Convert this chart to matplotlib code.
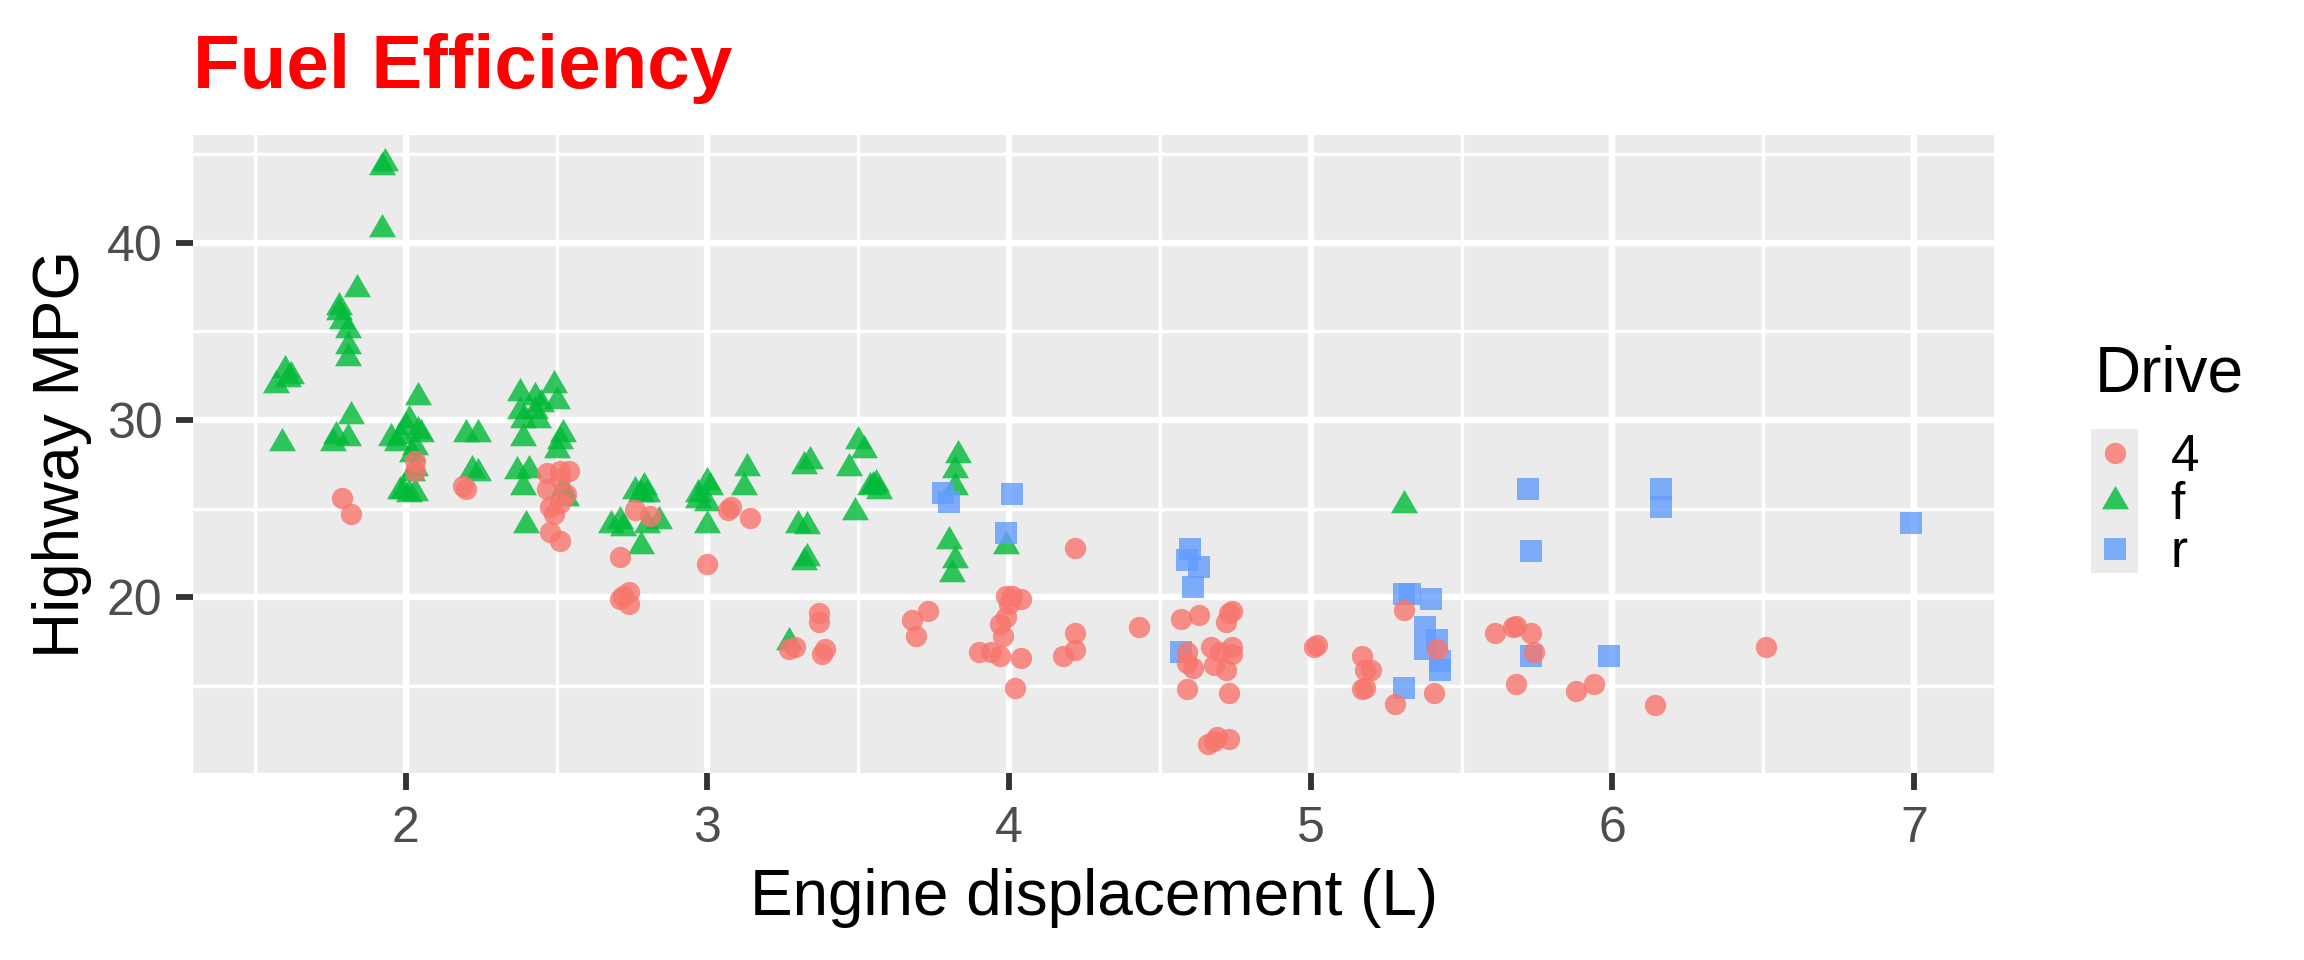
import matplotlib
matplotlib.use("Agg")
import matplotlib.pyplot as plt
from matplotlib.ticker import FixedLocator

plt.rcParams['font.family'] = ['Liberation Sans', 'DejaVu Sans']

# readings (displ, hwy) per drive type
f_displ = [1.93, 1.92, 1.92, 1.84, 1.78, 1.78, 1.79, 1.81, 1.81, 1.81,
           1.60, 1.62, 1.57, 1.61, 1.59, 1.82, 1.77, 1.76, 1.81,
           2.04, 2.01, 2.00, 1.98, 2.04, 1.97, 2.03, 2.02, 2.03, 2.02,
           1.99, 2.01, 2.03, 2.05, 1.95, 1.98,
           2.20, 2.24, 2.22, 2.24,
           2.38, 2.43, 2.49, 2.50, 2.38, 2.43, 2.45, 2.39, 2.44, 2.39,
           2.52, 2.51, 2.50, 2.37, 2.41, 2.39, 2.40, 2.52, 2.53,
           2.79, 2.80, 2.78, 3.01, 2.97, 3.13, 3.12, 3.32, 3.34, 3.50,
           3.52, 3.47, 3.54, 3.49, 3.30, 3.33, 2.97, 3.00, 2.68, 2.71,
           2.72, 2.84, 2.80, 3.00, 2.78, 3.33, 3.32, 3.27, 3.00, 2.76,
           3.56, 3.57, 3.55, 3.83, 3.82, 3.82, 3.80, 3.82, 3.81, 3.99,
           5.31]
f_hwy = [44.5, 44.3, 40.8, 37.4, 36.4, 36.1, 35.6, 35.1, 34.2, 33.5,
         32.8, 32.5, 32.0, 32.3, 28.7, 30.2, 29.1, 28.7, 29.0,
         31.3, 30.0, 29.6, 29.1, 29.4, 28.7, 28.5, 28.1, 27.3, 27.0,
         26.0, 25.8, 25.9, 29.2, 29.0, 26.0,
         29.2, 29.2, 27.2, 27.0,
         31.5, 31.3, 32.0, 31.1, 30.5, 30.5, 30.9, 30.0, 30.0, 29.0,
         29.2, 28.8, 28.3, 27.1, 27.2, 26.2, 24.1, 26.1, 25.6,
         26.2, 25.8, 25.8, 26.2, 25.8, 27.3, 26.2, 27.4, 27.7, 28.8,
         28.3, 27.3, 26.2, 24.8, 24.1, 24.0, 25.5, 25.3, 24.1, 24.3,
         23.9, 24.3, 24.1, 24.1, 22.9, 22.2, 22.0, 17.5, 26.5, 26.0,
         26.4, 26.0, 26.3, 28.0, 27.2, 26.2, 23.2, 22.1, 21.3, 22.9,
         25.2]

r_displ = [3.78, 3.80, 4.01, 3.99, 4.60, 4.59, 4.63, 4.61, 4.57,
           5.33, 5.31, 5.40, 5.38, 5.42, 5.38, 5.43, 5.43, 5.31,
           5.72, 5.73, 5.73, 5.99, 6.16, 6.16, 6.99]
r_hwy = [25.9, 25.4, 25.8, 23.6, 22.7, 22.1, 21.7, 20.6, 16.9,
         20.2, 20.2, 19.9, 18.3, 17.6, 17.1, 15.9, 16.4, 14.9,
         26.1, 22.6, 16.7, 16.7, 26.1, 25.1, 24.2]

d4_displ = [1.79, 1.82, 2.03, 2.03, 2.20, 2.19,
            2.47, 2.51, 2.54, 2.51, 2.47, 2.53, 2.51, 2.48, 2.49, 2.48, 2.51,
            2.76, 2.81, 2.71, 2.72, 2.74, 2.71, 2.74,
            3.00, 3.07, 3.08, 3.14,
            3.27, 3.29, 3.37, 3.37, 3.39, 3.38,
            3.73, 3.68, 3.69,
            3.99, 4.01, 4.04, 3.99, 3.97, 3.98, 3.90, 3.94, 3.97, 4.04, 4.02, 4.00,
            4.22, 4.22, 4.22, 4.18, 4.43,
            4.57, 4.63, 4.74, 4.72, 4.73, 4.59, 4.59, 4.61, 4.67, 4.70, 4.74,
            4.74, 4.68, 4.72, 4.59, 4.73, 4.66, 4.69, 4.73, 4.68,
            5.01, 5.02, 5.17, 5.18, 5.20, 5.17, 5.18, 5.28, 5.31, 5.42, 5.41,
            5.61, 5.67, 5.68, 5.73, 5.74, 5.68, 5.88, 5.94, 6.14, 6.51]
d4_hwy = [25.6, 24.7, 27.7, 27.1, 26.1, 26.3,
          27.0, 27.1, 27.1, 26.7, 26.1, 25.8, 25.3, 25.1, 24.7, 23.7, 23.2,
          24.9, 24.6, 22.3, 20.1, 20.3, 19.9, 19.6,
          21.9, 24.9, 25.1, 24.5,
          17.1, 17.2, 19.1, 18.6, 17.1, 16.8,
          19.2, 18.7, 17.8,
          20.1, 20.1, 19.9, 18.9, 18.5, 17.8, 16.9, 16.9, 16.7, 16.6, 14.9, 19.6,
          22.8, 18.0, 17.0, 16.7, 18.3,
          18.8, 19.0, 19.2, 18.6, 19.1, 16.9, 16.3, 16.0, 17.2, 16.9, 17.2,
          16.8, 16.2, 15.9, 14.8, 14.6, 11.7, 12.1, 12.0, 11.9,
          17.2, 17.3, 16.7, 15.9, 15.9, 14.8, 14.9, 14.0, 19.3, 17.1, 14.6,
          18.0, 18.3, 18.4, 18.0, 16.9, 15.1, 14.7, 15.1, 13.9, 17.2]

drive_labels = ['4', 'f', 'r']
drive_colors = {'4': '#F8766D', 'f': '#00BA38', 'r': '#619CFF'}
tri = [(0, 1), (-0.866, -0.5), (0.866, -0.5)]
drive_markers = {'4': 'o', 'f': tri, 'r': 's'}
drive_sizes = {'4': 59, 'f': 126, 'r': 58}
series = {'4': (d4_displ, d4_hwy), 'f': (f_displ, f_hwy), 'r': (r_displ, r_hwy)}
draw_order = ['f', 'r', '4']

x_ticks = [2, 3, 4, 5, 6, 7]
y_ticks = [20, 30, 40]
x_minor = [1.5, 2.5, 3.5, 4.5, 5.5, 6.5]
y_minor = [15, 25, 35, 45]

W, H = 2304, 960
fig = plt.figure(figsize=(W / 200, H / 200), dpi=200)
ax = fig.add_axes([193 / W, 1 - 773.3 / H, (1993.7 - 193) / W, (773.3 - 135) / H])
ax.set_facecolor('#EBEBEB')
for s in ax.spines.values():
    s.set_visible(False)

for d in draw_order:
    xs, ys = series[d]
    ax.scatter(xs, ys, s=drive_sizes[d], marker=drive_markers[d],
               color=drive_colors[d], alpha=0.8, linewidths=0, zorder=3)

ax.set_xlim(1.295, 7.264)
ax.set_ylim(10.07, 46.08)
ax.set_xticks(x_ticks)
ax.set_yticks(y_ticks)
ax.xaxis.set_minor_locator(FixedLocator(x_minor))
ax.yaxis.set_minor_locator(FixedLocator(y_minor))
ax.grid(which='major', color='white', linewidth=2.3, zorder=1)
ax.grid(which='minor', color='white', linewidth=1.2, zorder=1)
ax.set_axisbelow(True)
ax.tick_params(which='minor', length=0)
ax.tick_params(axis='x', which='major', length=6, width=2.1, color='#333333',
               labelsize=18, labelcolor='#4D4D4D', pad=5.8)
ax.tick_params(axis='y', which='major', length=6, width=2.1, color='#333333',
               labelsize=18, labelcolor='#4D4D4D', pad=5)

fig.text(193 / W, 1 - 88.3 / H, 'Fuel Efficiency', color='red', fontsize=27.5,
         fontweight='bold', ha='left', va='baseline')
fig.text(1094 / W, 1 - 915 / H, 'Engine displacement (L)', fontsize=23,
         ha='center', va='baseline')
fig.text(79 / W, 1 - 454 / H, 'Highway MPG', fontsize=23, rotation=90,
         rotation_mode='anchor', ha='center', va='baseline')

# legend
fig.text(2094.7 / W, 1 - 391 / H, 'Drive', fontsize=23, ha='left', va='baseline')
lax = fig.add_axes([2091 / W, 1 - 572.7 / H, 47 / W, 143.7 / H])
lax.set_facecolor('#EBEBEB')
lax.set_xlim(0, 1)
lax.set_ylim(3, 0)
lax.set_xticks([])
lax.set_yticks([])
for s in lax.spines.values():
    s.set_visible(False)
row_h = 143.7 / 3
for i, d in enumerate(drive_labels):
    lax.scatter([0.5], [i + 0.5], s=drive_sizes[d], marker=drive_markers[d],
                color=drive_colors[d], alpha=0.8, linewidths=0)
    base_y = 429 + row_h * (i + 0.5) + 18.5
    fig.text(2170.7 / W, 1 - base_y / H, d, fontsize=18.5, ha='left', va='baseline')

fig.savefig('out.png', dpi=200, facecolor='white')
